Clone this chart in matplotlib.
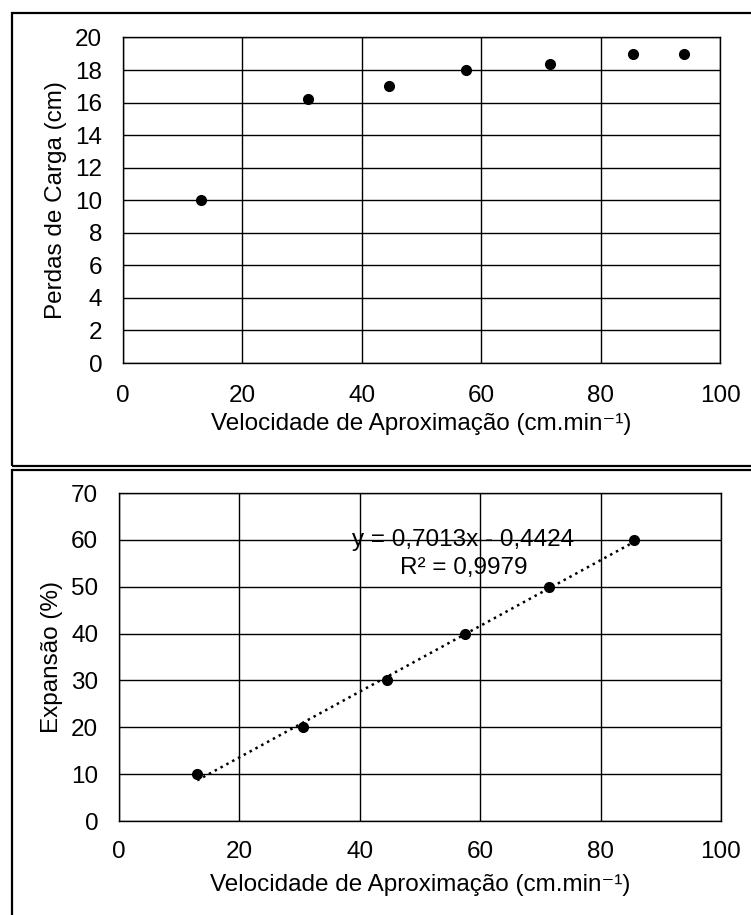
import matplotlib.pyplot as plt
from matplotlib.patches import Rectangle

plt.rcParams['font.family'] = ['Liberation Sans', 'DejaVu Sans']

# Data
vel_perdas = [13, 31, 44.5, 57.5, 71.5, 85.5, 94]
perdas = [10, 16.2, 17, 18, 18.4, 19, 19]

vel_exp = [13, 30.5, 44.5, 57.5, 71.5, 85.5]
expansao = [10, 20, 30, 40, 50, 60]

# trendline shown on the chart
slope = 0.7013
intercept = -0.4424
r2 = 0.9979

xlabel = "Velocidade de Aproximação (cm.min⁻¹)"
fs = 17.5

fig = plt.figure(figsize=(7.51, 9.15), dpi=100)

# panel frames
W, H = 751, 915
fig.patches.append(Rectangle((12 / W, 1 - 466 / H), 760 / W, 453 / H, transform=fig.transFigure,
                             fill=False, edgecolor='black', lw=1.6))
fig.patches.append(Rectangle((12 / W, -0.05), 760 / W, 1 - 470 / H + 0.05, transform=fig.transFigure,
                             fill=False, edgecolor='black', lw=1.6))

ax1 = fig.add_axes([123 / W, 1 - 363 / H, 597 / W, 325.5 / H])
ax2 = fig.add_axes([119 / W, 1 - 821 / H, 602 / W, 328 / H])

for ax in (ax1, ax2):
    ax.set_xlim(0, 100)
    ax.set_xticks(range(0, 101, 20))
    ax.grid(True, color='black', lw=1.0)
    ax.set_axisbelow(True)
    ax.tick_params(axis='y', length=0, labelsize=fs, pad=15)
    for sp in ax.spines.values():
        sp.set_color('black')
        sp.set_linewidth(1.0)

ax1.tick_params(axis='x', length=0, labelsize=fs, pad=16)
ax2.tick_params(axis='x', length=0, labelsize=fs, pad=14.5)
ax1.set_xlabel(xlabel, fontsize=fs, labelpad=4)
ax2.set_xlabel(xlabel, fontsize=fs, labelpad=8)

ax1.set_ylim(0, 20)
ax1.set_yticks(range(0, 21, 2))
ax1.plot(vel_perdas, perdas, 'o', color='black', ms=7, zorder=3)
ax1.set_ylabel("Perdas de Carga (cm)", fontsize=fs, labelpad=6)

ax2.set_ylim(0, 70)
ax2.set_yticks(range(0, 71, 10))
xs = [min(vel_exp), max(vel_exp)]
ax2.plot(xs, [slope * x + intercept for x in xs], ':', color='black', lw=1.8, zorder=2)
ax2.plot(vel_exp, expansao, 'o', color='black', ms=7, zorder=3)
ax2.set_ylabel("Expansão (%)", fontsize=fs, labelpad=6)
ax2.text(57.2, 60, f"y = {slope:.4f}x - {abs(intercept):.4f}".replace('.', ','),
         ha='center', va='center', fontsize=fs)
ax2.text(57.2, 54, f"R² = {r2:.4f}".replace('.', ','), ha='center', va='center', fontsize=fs)

fig.savefig("out.png", dpi=100)
